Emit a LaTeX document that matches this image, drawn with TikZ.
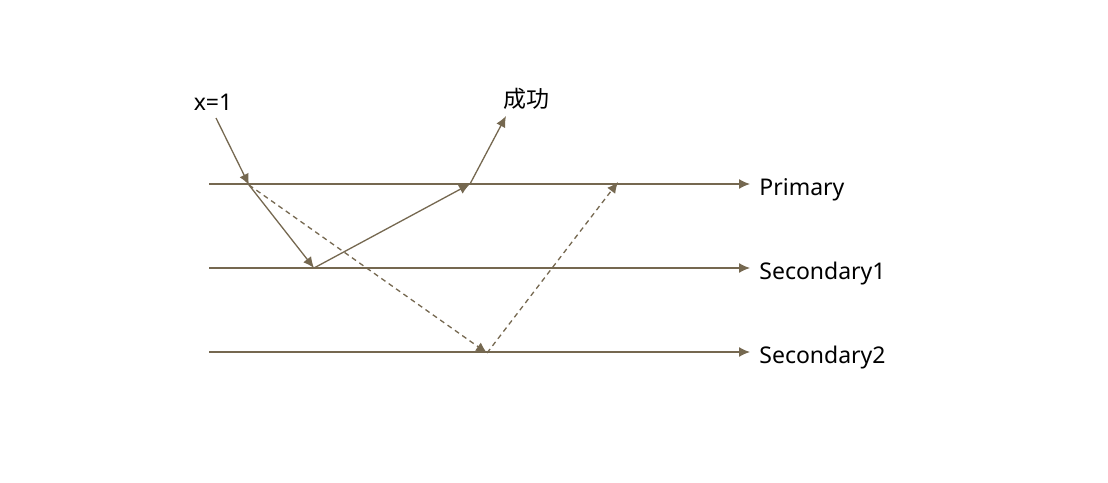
\documentclass[tikz,border=0pt]{standalone}
\usepackage{fontspec}
\setmainfont{Noto Sans}
\newfontfamily\cjk{Noto Sans CJK SC}
\usetikzlibrary{arrows, arrows.meta, positioning}
\definecolor{linebrown}{RGB}{117,104,80}

\begin{document}
\begin{tikzpicture}[x=0.5pt,y=-0.5pt,
    lbl/.style={font=\fontsize{11.5}{14}\selectfont,inner sep=0pt},
    reply/.style={dash pattern=on 2.5pt off 2pt}]
        \useasboundingbox (0,0) rectangle (1108,482);
        \begin{scope}[every node/.style={lbl,anchor=west}]
          \node (pri) at (759,190) {Primary};
          \node (sec1) at (759,274) {Secondary1};
          \node (sec2) at (759,358) {Secondary2};
        \end{scope}
        \coordinate (pris) at (209,184);
        \coordinate (prie) at (750,184);
        \coordinate (sec1s) at (209,268);
        \coordinate (sec1e) at (750,268);
        \coordinate (sec2s) at (209,352);
        \coordinate (sec2e) at (750,352);
        \coordinate (xs) at (216,118);
        \coordinate (p1) at (249,185);
        \coordinate (s1) at (314,268);
        \coordinate (p2) at (470,184);
        \coordinate (s2) at (487,353);
        \coordinate (p3) at (618,182);
        \coordinate (top) at (506,116);
        \node[lbl] (x) at (213,102) {x=1};
        \node[lbl] (ok) at (526,99) {\cjk 成功};
        \begin{scope}[every edge/.style={draw=linebrown,line width=0.65pt,
            -{Latex[length=5.5pt,width=5pt]}}]
          \path (pris) edge (prie);
          \path (sec1s) edge (sec1e);
          \path (sec2s) edge (sec2e);
          \path (xs) edge (p1);
          \path (p1) edge (s1);
          \path (p1) edge[reply] (s2);
          \path (s1) edge (p2);
          \path (p2) edge (top);
          \path (s2) edge[reply] (p3);
        \end{scope}
      \end{tikzpicture}
\end{document}
